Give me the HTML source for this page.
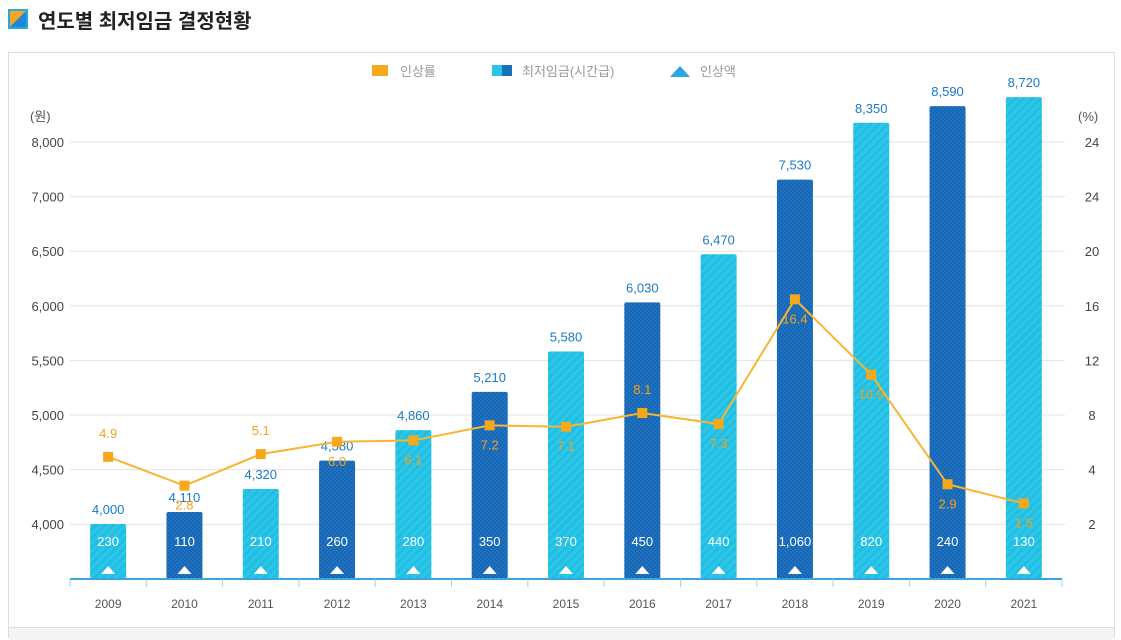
<!DOCTYPE html>
<html><head><meta charset="utf-8">
<style>
body{margin:0;background:#fff;width:1121px;height:639px;overflow:hidden;font-family:"Liberation Sans","Noto Sans CJK KR",sans-serif;}
.title{position:absolute;left:38px;top:5px;font-size:20px;font-weight:bold;color:#222;}
.icon{position:absolute;left:8px;top:9px;width:16px;height:16px;border:2px solid #29a7e1;background:linear-gradient(135deg,#f5a623 50%,#1e88d6 50%);}
.card{position:absolute;left:8px;top:52px;width:1107px;height:586px;border:1px solid #ddd;box-sizing:border-box;}
.foot{position:absolute;left:9px;top:627px;width:1105px;height:12px;background:#f4f4f4;border-top:1px solid #ddd;}
</style></head><body>
<div class="icon"></div>
<div class="title">연도별 최저임금 결정현황</div>
<div class="card"></div>
<div class="foot"></div>
<svg id="chart" width="1121" height="639" style="position:absolute;left:0;top:0">
<defs>
<pattern id="pl" width="6" height="6" patternUnits="userSpaceOnUse" patternTransform="rotate(45)"><rect width="6" height="6" fill="#2cc6e8"/><rect width="3" height="6" fill="#22bde2"/></pattern>
<pattern id="pd" width="4" height="4" patternUnits="userSpaceOnUse"><rect width="4" height="4" fill="#1d72c2"/><rect width="2" height="2" fill="#1a66b3"/><rect x="2" y="2" width="2" height="2" fill="#1a66b3"/></pattern>
</defs>
</svg>
<script>
const years=['2009','2010','2011','2012','2013','2014','2015','2016','2017','2018','2019','2020','2021'];
const wages=[4000,4110,4320,4580,4860,5210,5580,6030,6470,7530,8350,8590,8720];
const increases=[230,110,210,260,280,350,370,450,440,1060,820,240,130];
const rates=[4.9,2.8,5.1,6.0,6.1,7.2,7.1,8.1,7.3,16.4,10.9,2.9,1.5];
const ratePos=['above','below','above','below','below','below','below','above','below','below','below','below','below'];
const leftTickLabels=['8,000','7,000','6,500','6,000','5,500','5,000','4,500','4,000'];
const rightTickLabels=['24','24','20','16','12','8','4','2'];
const NS='http://www.w3.org/2000/svg';
const svg=document.getElementById('chart');
const x0=70,x1=1062,base=579;
const step=(x1-x0)/years.length;
function xC(i){return x0+step*(i+0.5);}
function yL(v){return v<=6500?524-(v-4000)*0.1092:251-(v-6500)*0.0693;}
function yR(v){return 524-v*13.7;}
function gridY(i){return 142+i*54.6;}
function el(t,a,txt){const e=document.createElementNS(NS,t);for(const k in a)e.setAttribute(k,a[k]);if(txt!==undefined)e.textContent=txt;svg.appendChild(e);return e;}
leftTickLabels.forEach((lab,i)=>{
 const yy=gridY(i);
 const g=el('line',{x1:70,x2:1065,y1:yy,y2:yy,stroke:'#e3e3e3','stroke-width':1});
 
 const t=el('text',{x:64,y:yy+5,'text-anchor':'end','font-size':13,fill:'#444'},lab);
 
 const r=el('text',{x:1092,y:yy+5,'text-anchor':'middle','font-size':13,fill:'#444'},rightTickLabels[i]);
 
});
let u=el('text',{x:30,y:121,'font-size':13,fill:'#555'},'(원)');
u=el('text',{x:1078,y:121,'font-size':13,fill:'#555'},'(%)');
years.forEach((yr,i)=>{
 const cx=xC(i),top=yL(wages[i]);
 const b=el('rect',{x:cx-18,y:top,width:36,height:base-top,rx:2,fill:i%2?'url(#pd)':'url(#pl)'});
 
 const w=el('text',{x:cx,y:top-10,'text-anchor':'middle','font-size':13,fill:'#1a7ac8'},wages[i].toLocaleString('en-US'));
 
 const inc=el('text',{x:cx,y:546,'text-anchor':'middle','font-size':13,fill:'#fff'},increases[i].toLocaleString('en-US'));
 
 const tr=el('polygon',{points:`${cx-7},${574} ${cx+7},${574} ${cx},${566}`,fill:'#fff'});
 
 const xl=el('text',{x:cx,y:608,'text-anchor':'middle','font-size':12,fill:'#555'},yr);
 
});
let ax=el('line',{x1:70,x2:1062,y1:base,y2:base,stroke:'#3aa3e3','stroke-width':2});
for(let i=0;i<=years.length;i++){const t=el('line',{x1:x0+step*i,x2:x0+step*i,y1:base,y2:base+8,stroke:'#9cd3f3','stroke-width':1});}
const pts=rates.map((r,i)=>xC(i)+','+yR(r)).join(' ');
const pl=el('polyline',{points:pts,fill:'none',stroke:'#f8b531','stroke-width':2});

rates.forEach((r,i)=>{
 const cx=xC(i),cy=yR(r);
 const m=el('rect',{x:cx-5,y:cy-5,width:10,height:10,fill:'#f6a81c'});
 
 const t=el('text',{x:cx,y:ratePos[i]==='above'?cy-19:cy+24,'text-anchor':'middle','font-size':13,fill:'#f5a21a'},r.toFixed(1));
 
});
let l=el('rect',{x:372,y:65,width:16,height:11,fill:'#f8a91e'});
l=el('text',{x:400,y:76,'font-size':13,fill:'#999'},'인상률');
l=el('rect',{x:492,y:65,width:10,height:11,fill:'#29c5e6'});
l=el('rect',{x:502,y:65,width:10,height:11,fill:'#1a6fbf'});
l=el('text',{x:522,y:76,'font-size':13,fill:'#999'},'최저임금(시간급)');
l=el('polygon',{points:'670,77 690,77 680,66',fill:'#29a7e1'});
l=el('text',{x:700,y:76,'font-size':13,fill:'#999'},'인상액');
</script>
</body></html>
